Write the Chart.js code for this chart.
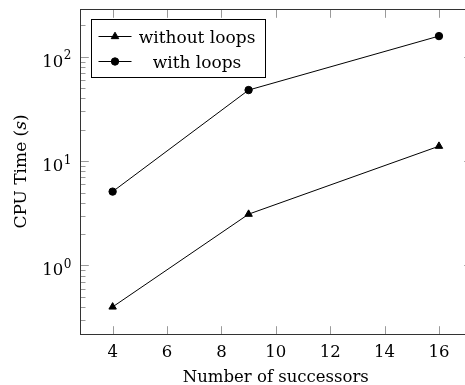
<!DOCTYPE html>
<html>
<head>
<meta charset="utf-8">
<script src="https://cdn.jsdelivr.net/npm/chart.js@4/dist/chart.umd.min.js"></script>
<style>
  html, body { margin: 0; padding: 0; background: #fff; }
  #wrap { width: 465px; height: 385px; overflow: hidden; position: relative; }
  canvas { display: block; }
</style>
</head>
<body>
<div id="wrap"><canvas id="c" width="480" height="385"></canvas></div>
<script>
// Measured CPU time (seconds) per number of successors
const successors = [4, 9, 16];
const timeWithoutLoops = [0.40, 3.1, 13.9];
const timeWithLoops = [5.1, 48, 158];
const seriesLabels = ['without loops', 'with loops'];
const seriesMarkers = ['triangle', 'circle'];

// Tick marks
const xTickValues = [4, 6, 8, 10, 12, 14, 16];
const yTickExponents = [0, 1, 2];

const xTitle = 'Number of successors';
const yTitleParts = ['CPU Time (', 's', ')'];

const FONT = '"DejaVu Serif", serif';
const LABEL_SIZE = 16.5;
const LEGEND_SIZE = 17;

// Axis limits: data range widened by 10% on each side (log space for y)
function enlarged(lo, hi) {
  const pad = (hi - lo) * 0.1;
  return [lo - pad, hi + pad];
}
const [xMin, xMax] = enlarged(Math.min(...successors), Math.max(...successors));
const allTimes = timeWithoutLoops.concat(timeWithLoops).map(Math.log10);
const [yLogMin, yLogMax] = enlarged(Math.min(...allTimes), Math.max(...allTimes));

function points(ys) {
  return successors.map((x, i) => ({ x, y: ys[i] }));
}

const markerSize = { triangle: 4.3, circle: 3.7 };

function drawMarker(ctx, style, x, y) {
  ctx.save();
  ctx.fillStyle = '#000';
  ctx.strokeStyle = '#000';
  ctx.lineWidth = 1;
  const r = markerSize[style];
  ctx.beginPath();
  if (style === 'circle') {
    ctx.arc(x, y, r, 0, Math.PI * 2);
  } else {
    for (let k = 0; k < 3; k++) {
      const a = k * 2 * Math.PI / 3;
      const px = x + Math.sin(a) * r, py = y - Math.cos(a) * r;
      if (k === 0) ctx.moveTo(px, py); else ctx.lineTo(px, py);
    }
    ctx.closePath();
  }
  ctx.fill();
  ctx.stroke();
  ctx.restore();
}

// Boxed axes with inward ticks, tick labels and axis titles
const axesPlugin = {
  id: 'boxAxes',
  beforeDatasetsDraw(chart) {
    const { ctx, chartArea: a, scales } = chart;
    const xs = scales.x, ys = scales.y;
    const L = Math.round(a.left) + 0.5, R = Math.round(a.right) + 0.5;
    const T = Math.round(a.top) + 0.5, B = Math.round(a.bottom) + 0.5;
    const MAJOR = 8.3, MINOR = 5;
    ctx.save();

    // tick marks
    ctx.strokeStyle = '#9a9a9a';
    ctx.lineWidth = 1;
    ctx.beginPath();
    xTickValues.forEach(v => {
      const px = Math.round(xs.getPixelForValue(v)) + 0.5;
      ctx.moveTo(px, B); ctx.lineTo(px, B - MAJOR);
      ctx.moveTo(px, T); ctx.lineTo(px, T + MAJOR);
    });
    const eLo = Math.floor(yLogMin), eHi = Math.ceil(yLogMax);
    for (let e = eLo; e <= eHi; e++) {
      for (let m = 1; m <= 9; m++) {
        const v = m * Math.pow(10, e);
        const lv = Math.log10(v);
        if (lv < yLogMin || lv > yLogMax) continue;
        const py = Math.round(ys.getPixelForValue(v)) + 0.5;
        const len = m === 1 ? MAJOR : MINOR;
        ctx.moveTo(L, py); ctx.lineTo(L + len, py);
        ctx.moveTo(R, py); ctx.lineTo(R - len, py);
      }
    }
    ctx.stroke();

    // frame
    ctx.strokeStyle = '#333';
    ctx.strokeRect(L, T, R - L, B - T);

    // x tick labels
    ctx.fillStyle = '#000';
    ctx.font = `${LABEL_SIZE}px ${FONT}`;
    ctx.textAlign = 'center';
    ctx.textBaseline = 'alphabetic';
    xTickValues.forEach(v => {
      ctx.fillText(String(v), xs.getPixelForValue(v), a.bottom + 23.3);
    });

    // y tick labels: 10 with a raised exponent
    yTickExponents.forEach(e => {
      const py = ys.getPixelForValue(Math.pow(10, e));
      const right = a.left - 8.5;
      ctx.font = `12px ${FONT}`;
      ctx.textAlign = 'right';
      ctx.fillText(String(e), right, py + 2.5);
      const ew = ctx.measureText(String(e)).width;
      ctx.font = `${LABEL_SIZE}px ${FONT}`;
      ctx.fillText('10', right - ew - 0.5, py + 10);
    });

    // x axis title
    ctx.textAlign = 'center';
    ctx.font = `${LABEL_SIZE}px ${FONT}`;
    ctx.fillText(xTitle, (a.left + a.right) / 2, a.bottom + 47.7);

    // y axis title (rotated, italic unit)
    ctx.translate(22, (a.top + a.bottom) / 2);
    ctx.rotate(-Math.PI / 2);
    const fonts = [`${LEGEND_SIZE}px ${FONT}`, `italic ${LEGEND_SIZE}px ${FONT}`, `${LEGEND_SIZE}px ${FONT}`];
    const widths = yTitleParts.map((t, i) => { ctx.font = fonts[i]; return ctx.measureText(t).width; });
    let cx = -widths.reduce((s, w) => s + w, 0) / 2;
    ctx.textAlign = 'left';
    ctx.textBaseline = 'middle';
    yTitleParts.forEach((t, i) => {
      ctx.font = fonts[i];
      ctx.fillText(t, cx, 0);
      cx += widths[i];
    });
    ctx.restore();
  },
  afterDatasetsDraw(chart) {
    const { ctx } = chart;
    ctx.save();
    const box = { x: 91.5, y: 19.5, w: 174, h: 58 };
    ctx.fillStyle = '#fff';
    ctx.fillRect(box.x, box.y, box.w, box.h);
    ctx.strokeStyle = '#000';
    ctx.lineWidth = 1;
    ctx.strokeRect(box.x, box.y, box.w, box.h);
    const rows = [36.5, 61.5];
    chart.data.datasets.forEach((ds, i) => {
      const y = rows[i];
      ctx.beginPath();
      ctx.moveTo(98.5, y); ctx.lineTo(131.5, y);
      ctx.strokeStyle = '#000';
      ctx.stroke();
      drawMarker(ctx, seriesMarkers[i], 115, y);
      ctx.fillStyle = '#000';
      ctx.font = `${LEGEND_SIZE}px ${FONT}`;
      ctx.textAlign = 'center';
      ctx.textBaseline = 'alphabetic';
      ctx.fillText(ds.label, 197, y + 6);
    });
    ctx.restore();
  }
};

const makeDataset = (i, values) => ({
  label: seriesLabels[i],
  data: points(values),
  borderColor: '#000',
  backgroundColor: '#000',
  borderWidth: 1,
  pointStyle: seriesMarkers[i],
  pointRadius: markerSize[seriesMarkers[i]],
  pointBorderWidth: 1,
  pointBackgroundColor: '#000',
  pointBorderColor: '#000',
  tension: 0,
  clip: false
});

new Chart(document.getElementById('c'), {
  type: 'line',
  data: {
    datasets: [makeDataset(0, timeWithoutLoops), makeDataset(1, timeWithLoops)]
  },
  options: {
    responsive: false,
    animation: false,
    devicePixelRatio: 1,
    layout: { padding: { left: 80, top: 9, right: 8.4, bottom: 51 } },
    plugins: { legend: { display: false }, tooltip: { enabled: false } },
    scales: {
      x: { type: 'linear', display: false, min: xMin, max: xMax },
      y: { type: 'logarithmic', display: false, min: Math.pow(10, yLogMin), max: Math.pow(10, yLogMax) }
    }
  },
  plugins: [axesPlugin]
});
</script>
</body>
</html>
